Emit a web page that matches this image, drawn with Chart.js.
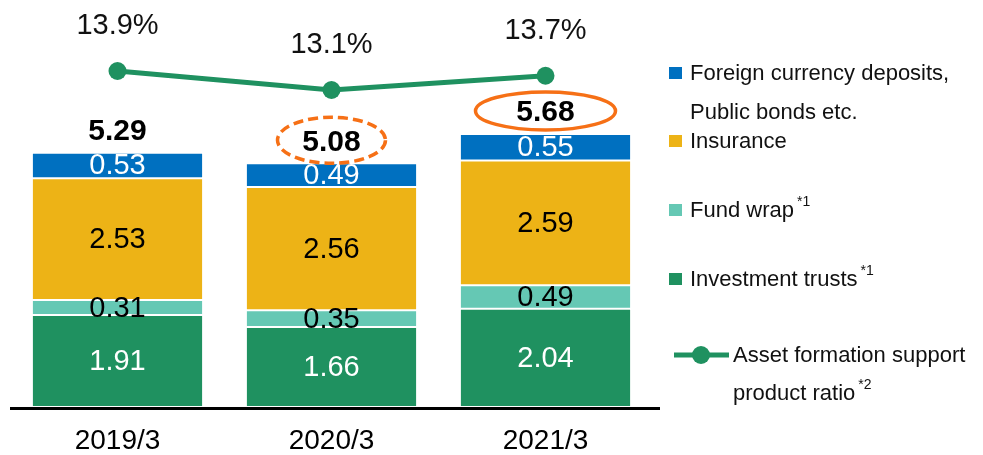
<!DOCTYPE html>
<html>
<head>
<meta charset="utf-8">
<script src="https://cdn.jsdelivr.net/npm/chart.js@4"></script>
<style>
  body { margin: 0; background: #fff; }
</style>
</head>
<body>
<canvas id="myChart" width="983" height="455"></canvas>
<script>
// data
var categories = ['2019/3', '2020/3', '2021/3'];
var investmentTrusts = [1.91, 1.66, 2.04];
var fundWrap = [0.31, 0.35, 0.49];
var insurance = [2.53, 2.56, 2.59];
var foreignBonds = [0.53, 0.49, 0.55];
var totals = [5.29, 5.08, 5.68];
var supportRatio = [13.9, 13.1, 13.7];

var FONT = "'Liberation Sans', Arial, sans-serif";
var GREEN = 'rgb(31,145,96)';
var ORANGE = 'rgb(246,112,22)';

// ellipse marks round the totals (none on the first one)
var highlight = [null, { dash: [10, 5], rx: 54, ry: 23 }, { dash: [], rx: 70, ry: 19 }];

var labelsPlugin = {
    id: 'labels',
    afterDatasetsDraw: function (chart) {
        var ctx = chart.ctx;
        var area = chart.chartArea;
        ctx.save();

        // x axis line
        ctx.strokeStyle = '#000';
        ctx.lineWidth = 3;
        ctx.beginPath();
        ctx.moveTo(10, area.bottom + 1.5);
        ctx.lineTo(660, area.bottom + 1.5);
        ctx.stroke();

        ctx.textAlign = 'center';
        ctx.textBaseline = 'middle';

        // values inside the segments
        chart.data.datasets.forEach(function (ds, i) {
            if (ds.type === 'line') return;
            var meta = chart.getDatasetMeta(i);
            ctx.fillStyle = ds.labelColor;
            ctx.font = '29px ' + FONT;
            meta.data.forEach(function (bar, j) {
                var y = (bar.y + bar.base) / 2 + 1;
                ctx.fillText(ds.data[j].toFixed(2), bar.x, y);
            });
        });

        // totals above the bars
        var topMeta = chart.getDatasetMeta(3);
        topMeta.data.forEach(function (bar, j) {
            var y = bar.y - 21;
            ctx.fillStyle = '#000';
            ctx.font = 'bold 30px ' + FONT;
            ctx.fillText(totals[j].toFixed(2), bar.x, y);
            var h = highlight[j];
            if (h) {
                ctx.strokeStyle = ORANGE;
                ctx.lineWidth = 3.5;
                ctx.setLineDash(h.dash);
                ctx.beginPath();
                ctx.ellipse(bar.x, y - 2, h.rx, h.ry, 0, 0, Math.PI * 2);
                ctx.stroke();
                ctx.setLineDash([]);
            }
        });

        // ratio labels above the line points
        var lineMeta = chart.getDatasetMeta(4);
        ctx.fillStyle = '#111';
        ctx.font = '29px ' + FONT;
        lineMeta.data.forEach(function (pt, j) {
            ctx.fillText(supportRatio[j].toFixed(1) + '%', pt.x, pt.y - 45);
        });

        ctx.restore();
    }
};

var legendPlugin = {
    id: 'sideLegend',
    afterDraw: function (chart) {
        var ctx = chart.ctx;
        var ds = chart.data.datasets;
        ctx.save();
        ctx.textBaseline = 'middle';
        ctx.textAlign = 'left';
        ctx.fillStyle = '#111';

        function square(color, y) {
            ctx.fillStyle = color;
            ctx.fillRect(669, y - 6, 13, 12);
            ctx.fillStyle = '#111';
        }
        function text(str, x, y, sup) {
            ctx.font = '22px ' + FONT;
            ctx.fillText(str, x, y);
            if (sup) {
                var w = ctx.measureText(str).width;
                ctx.font = '14px ' + FONT;
                ctx.fillText(sup, x + w + 3, y - 9);
            }
        }

        square(ds[3].backgroundColor, 73);
        text('Foreign currency deposits,', 690, 74);
        text('Public bonds etc.', 690, 113);
        square(ds[2].backgroundColor, 141);
        text('Insurance', 690, 142);
        square(ds[1].backgroundColor, 210);
        text('Fund wrap', 690, 211, '*1');
        square(ds[0].backgroundColor, 279);
        text('Investment trusts', 690, 280, '*1');

        // line marker
        ctx.strokeStyle = GREEN;
        ctx.lineWidth = 5;
        ctx.beginPath();
        ctx.moveTo(674, 355);
        ctx.lineTo(729, 355);
        ctx.stroke();
        ctx.fillStyle = GREEN;
        ctx.beginPath();
        ctx.arc(701, 355, 9, 0, Math.PI * 2);
        ctx.fill();
        ctx.fillStyle = '#111';
        text('Asset formation support', 733, 356);
        text('product ratio', 733, 394, '*2');

        ctx.restore();
    }
};

var ctx = document.getElementById('myChart').getContext('2d');
var chart = new Chart(ctx, {
    type: 'bar',
    data: {
        labels: categories,
        datasets: [{
            label: 'Investment trusts',
            data: investmentTrusts,
            backgroundColor: GREEN,
            labelColor: '#fff',
            order: 2
        }, {
            label: 'Fund wrap',
            data: fundWrap,
            backgroundColor: 'rgb(101,200,180)',
            labelColor: '#000',
            order: 2
        }, {
            label: 'Insurance',
            data: insurance,
            backgroundColor: 'rgb(237,179,22)',
            labelColor: '#000',
            order: 2
        }, {
            label: 'Foreign currency deposits, Public bonds etc.',
            data: foreignBonds,
            backgroundColor: 'rgb(0,112,192)',
            labelColor: '#fff',
            order: 2
        }, {
            type: 'line',
            label: 'Asset formation support product ratio',
            data: supportRatio,
            yAxisID: 'y2',
            borderColor: GREEN,
            backgroundColor: GREEN,
            borderWidth: 5,
            pointRadius: 9,
            pointBorderWidth: 0,
            pointBackgroundColor: GREEN,
            fill: false,
            order: 1
        }]
    },
    options: {
        responsive: false,
        animation: false,
        events: [],
        layout: { autoPadding: false, padding: { left: 10.5, right: 330.5, top: 0, bottom: 0 } },
        datasets: {
            bar: {
                barPercentage: 0.8,
                categoryPercentage: 1,
                borderColor: '#fff',
                borderWidth: 1,
                borderSkipped: false
            }
        },
        plugins: {
            legend: { display: false },
            tooltip: { enabled: false }
        },
        scales: {
            x: {
                stacked: true,
                grid: { display: false },
                border: { display: false },
                ticks: {
                    color: '#000',
                    padding: 9,
                    font: { family: FONT, size: 28 }
                },
                afterFit: function (scale) { scale.height = 48; }
            },
            y: {
                stacked: true,
                display: false,
                min: 0,
                max: 8.45
            },
            y2: {
                display: false,
                min: -0.25,
                max: 16.89
            }
        }
    },
    plugins: [labelsPlugin, legendPlugin]
});
</script>
</body>
</html>
